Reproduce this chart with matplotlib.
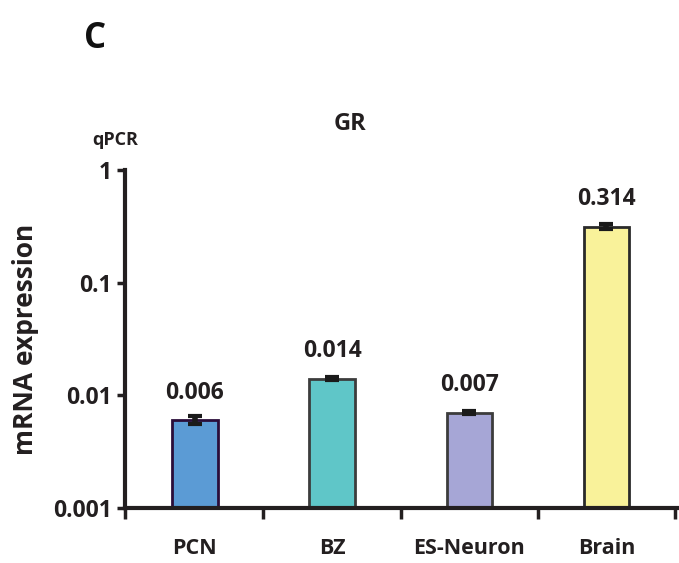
import numpy as np
import matplotlib
matplotlib.use("Agg")
import matplotlib.pyplot as plt

plt.rcParams['font.family'] = ['Open Sans', 'DejaVu Sans']
plt.rcParams['font.weight'] = 'bold'

categories = ['PCN', 'BZ', 'ES-Neuron', 'Brain']
values = [0.006, 0.014, 0.007, 0.314]
errors = [0.0005, 0.0004, 0.0002, 0.015]
labels = ['0.006', '0.014', '0.007', '0.314']
colors = ['#5B9BD5', '#5FC6C8', '#A6A6D6', '#F9F29A']
edges = ['#2A0D3A', '#3C3C3C', '#3C3C3C', '#2A2A2A']

fig = plt.figure(figsize=(6.79, 5.63), dpi=100)
ax = fig.add_axes([0.184, 0.098, 0.816, 0.600])

x = np.arange(len(categories))
ax.bar(x, values, width=0.33, color=colors, edgecolor=edges, linewidth=2,
       zorder=2)
ax.errorbar(x, values, yerr=errors, fmt='none', ecolor='#1a1a1a',
            elinewidth=4, capsize=5, capthick=3, zorder=3)

for xi, v, lab in zip(x, values, labels):
    ax.annotate(lab, (xi, v), xytext=(0, 11), textcoords='offset points',
                ha='center', va='bottom', fontsize=16.5, fontweight='bold',
                color='#231F20')

ax.set_yscale('log')
ax.set_ylim(0.001, 1)
ax.set_xlim(-0.51, 3.53)
ax.set_yticks([0.001, 0.01, 0.1, 1])
ax.set_yticklabels(['0.001', '0.01', '0.1', '1'])
ax.yaxis.set_minor_locator(matplotlib.ticker.NullLocator())
ax.set_xticks([-0.51, 0.5, 1.5, 2.5, 3.5])
ax.set_xticklabels([])
ax.tick_params(axis='y', length=6, width=2.5, labelsize=16.5, colors='#231F20')
ax.tick_params(axis='x', length=8, width=2.5, colors='#231F20')
for i, c in enumerate(categories):
    ax.text(i, -0.12, c, transform=ax.get_xaxis_transform(), ha='center',
            va='center', fontsize=15.5, fontweight='bold', color='#231F20')

for s in ['top', 'right']:
    ax.spines[s].set_visible(False)
for s in ['left', 'bottom']:
    ax.spines[s].set_linewidth(3)
    ax.spines[s].set_color('#231F20')

ax.set_ylabel('mRNA expression', fontsize=19, fontweight='bold', labelpad=10,
              color='#231F20')
fig.text(0.515, 0.78, 'GR', ha='center', va='center', fontsize=17,
         fontweight='bold', color='#231F20')
fig.text(0.17, 0.752, 'qPCR', ha='center', va='center', fontsize=13,
         fontweight='bold', color='#231F20')
fig.text(0.14, 0.93, 'C', ha='center', va='center', fontsize=25,
         fontweight='bold', color='#111111')

fig.savefig('out.png', dpi=100)
